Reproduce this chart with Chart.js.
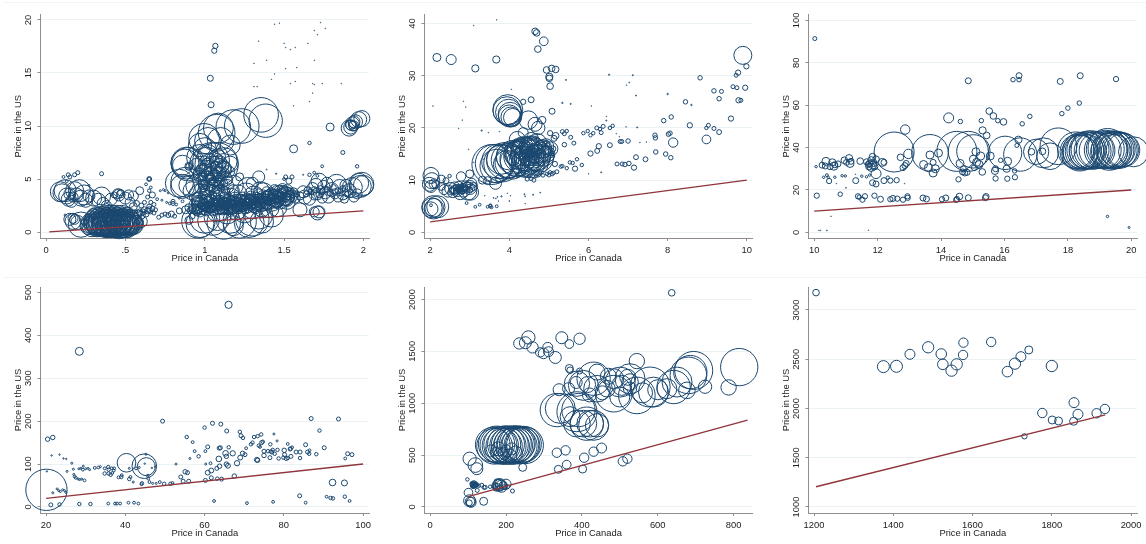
<!DOCTYPE html>
<html>
<head>
<meta charset="utf-8">
<script src="https://cdn.jsdelivr.net/npm/chart.js@4"></script>
<style>
  html, body { margin: 0; background: #fff; }
  #page { position: relative; width: 1146px; height: 544px; overflow: hidden; }
  canvas { position: absolute; }
  .rule { position: absolute; left: 3px; right: 0; height: 1px; background: #f1f5f6; }
</style>
</head>
<body>
<div id="page">
  <div class="rule" style="top:2px"></div>
  <div class="rule" style="top:277px"></div>
  <canvas id="p1"></canvas><canvas id="p2"></canvas><canvas id="p3"></canvas>
  <canvas id="p4"></canvas><canvas id="p5"></canvas><canvas id="p6"></canvas>
</div>
<script>
// each row: price in Canada, price in the US, weight
const under2 = [
  [.09,3.8,100],[.1,3.7,81],[.12,3.9,121],[.13,3.4,64],[.14,3.1,49],[.15,3.6,36],[.16,2.9,36],[.17,3.3,25],[.18,3.9,81],[.19,3.5,49],
  [.21,3.9,121],[.22,3.2,64],[.24,3.5,100],[.25,3,49],[.27,3.4,36],[.3,3.2,64],[.33,3,49],[.35,3.4,81],[.36,2.7,36],[.38,2.5,25],
  [.41,3.1,36],[.43,3.5,9],[.45,3.6,25],[.47,3.6,16],[.47,3.7,9],[.46,3.5,36],[.5,3.2,36],[.52,3.5,25],[.53,2.8,25],[.55,3.4,25],[.59,3.9,16],
  [.11,5.2,2],[.13,4.8,2],[.14,5.4,4],[.15,5.2,4],[.18,5.4,4],[.2,5.6,4],[.35,5.5,4],[.27,4.4,1],[.65,5,6],[.65,5,3],[.63,4.5,2],[.66,4.2,2],[.65,3.9,3],[.67,3.5,9],[.64,3.3,4],
  [.12,1.6,1],[.15,1.2,36],[.17,1,64],[.18,1.2,25],[.2,.9,49],[.22,.7,160],[.17,1.3,25],[.24,.9,9],[.27,1.3,16],[.28,1.5,25],[.3,1.7,36],
  [.27,.6,81],[.28,.8,100],[.29,.5,100],[.3,.7,100],[.31,.9,121],[.32,.5,100],[.33,.7,144],[.34,.8,144],[.345,.5,100],[.35,.9,169],[.36,.6,121],[.365,.7,144],
  [.37,.8,169],[.38,.5,121],[.385,.9,169],[.39,.6,144],[.4,.7,144],[.405,.9,169],[.41,.5,121],[.42,.8,169],[.425,.6,144],[.43,.9,169],[.44,.5,121],[.445,.7,144],
  [.45,.8,169],[.46,.5,144],[.465,.9,169],[.47,.6,144],[.48,.7,169],[.485,.5,121],[.49,.9,169],[.5,.6,144],[.505,.8,144],[.51,.5,121],[.52,.7,121],[.53,.6,100],[.54,.8,121],[.55,.7,100],[.57,.9,49],[.6,1,36],
  [.33,1.3,36],[.35,1.5,36],[.37,1.2,49],[.39,1.5,36],[.41,1.3,49],[.43,1.6,36],[.45,1.2,49],[.47,1.5,36],[.49,1.3,49],[.36,.4,64],[.4,.3,64],[.44,.3,64],[.48,.4,64],[.34,1,64],[.38,1,81],[.42,1.1,81],[.46,1,81],[.5,1,81],
  [.31,1,144],[.325,1.1,169],[.34,.9,196],[.355,1.1,196],[.37,1,196],[.385,1.2,196],[.4,1,196],[.415,1.2,196],[.43,1,196],[.445,1.2,196],[.46,1,196],[.475,1.2,196],[.49,1,169],[.505,1.1,169],[.52,1,144],[.535,.9,121],[.36,.8,121],[.39,.8,121],[.42,.8,121],[.45,.8,121],[.48,.8,121],[.375,1.3,64],[.405,1.4,64],[.435,1.3,64],[.465,1.4,64],
  [.5,1.5,25],[.52,1.7,16],[.54,1.6,9],[.56,1.8,9],[.58,1.7,16],[.59,1.9,9],[.6,1.6,16],[.61,1.9,9],[.62,2.1,9],[.63,1.7,9],[.64,2,9],[.65,2.1,9],[.66,1.9,4],[.67,2.2,6],[.68,1.8,4],[.69,2.1,4],
  [.55,2.4,16],[.57,2.7,9],[.6,2.5,6],[.62,2.8,4],[.65,2.4,6],[.66,2.8,4],[.68,2.6,4],[.7,3.1,2],[.72,3.9,1],[.74,4,1],[.75,3.9,1],[.77,3.7,1],[.73,3,1],[.76,2.8,1],[.78,2.7,2],[.8,2.9,4],[.8,2.7,4],[.82,2.6,2],[.84,3.2,1],[.86,2.9,2],
  [.71,1.4,4],[.73,1.6,4],[.75,1.7,4],[.77,1.6,6],[.79,1.7,9],[.81,1.5,4],[.84,2,9],[.9,1.1,16],[.92,1.5,9],
  [.88,2.1,16],[.9,2.3,16],[.91,2,9],[.93,2.2,25],[.94,2.6,16],[.95,2,25],[.96,2.4,36],[.97,2.8,25],[.98,2.2,36],[.99,3.1,16],[1,2.5,36],[1.01,2,25],[1.02,2.8,36],[1.03,2.3,25],[1.04,3,36],[1.05,2.5,49],[1.06,2.1,25],[1.07,3.2,25],[1.08,2.6,36],[1.09,2.2,36],
  [1.1,2.9,36],[1.11,2.4,49],[1.12,3.3,25],[1.13,2.7,36],[1.14,2.2,36],[1.15,3,36],[1.16,2.5,49],[1.17,2.9,25],[1.18,2.3,36],[1.19,3.2,36],[1.2,2.7,49],[1.21,2.2,25],[1.22,3,36],[1.23,2.5,36],[1.24,3.3,25],[1.25,2.8,49],[1.26,2.3,36],[1.27,3.1,36],[1.28,2.6,36],[1.29,3.4,25],
  [1.3,2.9,49],[1.31,2.4,36],[1.32,3.2,36],[1.33,2.7,36],[1.34,3.6,25],[1.35,3,49],[1.36,2.5,36],[1.37,3.4,36],[1.38,2.8,36],[1.39,3.8,25],[1.4,3.2,49],[1.41,2.7,36],[1.42,3.6,36],[1.43,3,36],[1.44,4,25],[1.45,3.4,49],[1.46,2.9,36],[1.47,3.8,36],[1.48,3.2,36],[1.49,4.1,25],
  [1.5,3.5,49],[1.51,3,36],[1.52,3.9,36],[1.53,3.3,36],[1.54,3.7,25],[1.55,3.4,36],[1.56,3.8,16],[1.57,3.2,25],[1.58,3.6,9],[1.6,3.4,16],
  [.96,2,16],[1.02,2.5,16],[1.07,2.8,16],[1.12,2.1,16],[1.17,2.6,16],[1.22,2.4,16],[1.27,2.8,16],[1.32,2.6,16],[1.37,3,16],[1.42,3.2,16],[1.47,3.4,16],[1.03,2.1,9],[1.08,2.4,9],[1.13,2.9,9],[1.18,2.7,9],[1.23,2.9,9],[1.28,3,9],[1.33,3.1,9],[1.38,3.3,9],[1.43,3.4,9],[1.48,3.6,9],
  [.97,2.5,9],[.99,2.3,9],[1,2.9,9],[1.01,2.6,9],[1.02,2.2,9],[1.04,2.6,9],[1.05,2.2,9],[1.06,2.9,9],[1.09,2.7,9],[1.1,2.3,9],[1.11,2.8,9],[1.12,2.5,9],[1.14,2.6,9],[1.15,2.3,9],[1.16,2.8,9],[1.17,2.2,9],[1.19,2.5,9],[1.2,2.9,9],[1.21,2.6,9],[1.22,2.2,9],[1.24,2.6,9],[1.25,2.4,9],[1.26,2.9,9],[1.27,2.5,9],[1.29,2.7,9],[1.3,2.5,9],[1.31,3,9],[1.32,2.8,9],[1.34,2.7,9],[1.35,3.3,9],[1.36,2.9,9],[1.37,2.6,9],[1.39,3,9],[1.4,2.8,9],[1.41,3.4,9],[1.42,2.9,9],[1.44,3.1,9],[1.45,3,9],[1.46,3.6,9],[1.47,3.1,9],[1.49,3.4,9],[1.5,3.2,9],[1.51,3.7,9],[1.52,3.3,9],[1.53,3.6,9],
  [.95,2.2,25],[.97,1.9,25],[.99,2.7,25],[1.01,2.3,25],[1.03,2.9,25],[1.05,2,25],[1.07,2.5,25],[1.09,3,25],[1.11,2.1,25],[1.13,2.5,25],[1.15,2.8,25],[1.17,2.1,25],[1.19,2.8,25],[1.21,2.4,25],[1.23,3.1,25],[1.25,2.2,25],[1.27,2.6,25],[1.29,3.1,25],[1.31,2.7,25],[1.33,2.4,25],[1.35,2.7,25],[1.37,3.2,25],[1.39,2.6,25],[1.41,3,25],[1.43,3.5,25],[1.45,2.8,25],[1.47,3.2,25],[1.49,3.7,25],[1.51,3.3,25],[1.53,3.5,25],[.96,2.9,36],[1,2.2,36],[1.04,2.4,36],[1.08,2.9,36],[1.12,2.7,36],[1.16,2.2,36],[1.2,3,36],[1.24,2.5,36],[1.28,2.9,36],[1.32,2.3,36],[1.36,2.8,36],[1.4,3.4,36],[1.44,2.9,36],[1.48,3.5,36],[1.52,3,36],
  [1.02,2.4,4],[1.06,2.6,4],[1.1,2.6,4],[1.14,2.4,4],[1.18,2.5,4],[1.22,2.7,4],[1.26,2.6,4],[1.3,2.7,4],[1.34,2.9,4],[1.38,3.1,4],[1.42,3.1,4],[1.46,3.3,4],[1.5,3.4,4],
  [.95,2.5,64],[1.03,2.7,81],[1.09,2.5,64],[1.15,2.6,81],[1.21,2.5,64],[1.27,2.7,81],[1.33,2.8,64],[1.39,3,81],[1.45,3.1,64],[1.51,3.4,81],[.98,2.9,100],[1.03,3.4,121],[1.1,3.5,100],[1.16,3.1,121],[1.21,3.6,81],[1.26,3.5,144],[1.31,3.4,100],[1.37,3.7,100],[1.42,3,121],[1.47,3.3,144],[1.5,3.4,100],[1.08,2,121],[1.14,1.9,144],[1.2,2.1,100],[1.25,2,144],[1.3,2.3,121],[1.36,2.4,100],[1.41,2.2,81],[1.46,2.3,81],[1.52,2.9,64],
  [1.35,3.9,81],[1.27,4.2,100],[1.22,5.2,16],[1.18,4.4,100],[1.3,4.6,36],[1.34,5.2,36],[1.39,5.9,.2],[1.45,5.5,.4],[1.5,5,2],[1.51,5.2,4],[1.53,4.8,9],[1.55,5.2,4],[1.62,5.4,.3],[1.66,5.4,3],[1.69,5.6,2],[1.71,5.3,2],
  [1.62,3.8,36],[1.63,3.3,49],[1.65,3.9,16],[1.66,3.1,36],[1.68,4.1,36],[1.69,3.5,25],[1.7,4.4,49],[1.71,3.6,36],[1.72,4.8,64],[1.73,4,16],[1.74,3.2,25],[1.75,4.3,36],[1.76,3.7,36],[1.77,4.6,36],[1.78,3.3,36],[1.8,4,49],[1.82,3.6,25],[1.83,4.5,100],[1.84,3.3,25],[1.85,4.2,64],[1.87,3.6,36],[1.88,3.1,16],[1.89,4.4,36],[1.91,3.9,49],[1.93,4.2,100],[1.94,3.3,25],[1.96,3.6,25],[1.97,4.6,100],[1.98,4.3,121],[1.99,4.5,144],[2,4.4,100],
  [1.64,3.6,9],[1.67,3.8,9],[1.69,4,9],[1.72,3.5,9],[1.74,3.8,9],[1.77,4,9],[1.79,3.7,9],[1.81,4.2,9],[1.84,3.9,9],[1.87,4.1,9],[1.9,3.6,9],[1.92,3.8,9],
  [1.6,2.1,49],[1.69,1.9,25],[1.71,1.8,49],[1.72,1.9,36],
  [.84,4.6,196],[.86,4.3,144],[.88,4.7,225],[.9,4.4,100],[.92,3.9,81],[.95,4.4,121],[.97,3.5,121],[.887,6.5,256],[.897,6.4,278],[.875,6.5,196],[.9,6.2,16],[.9,6.2,9],[.86,6.3,100],
  [1.075,6.4,469],[1.04,6.7,336],[1.01,6.4,278],[1.12,6.7,178],[.97,7,178],[1.05,5.9,178],[.99,5.4,100],[1.1,6,100],[1.02,7.3,100],[1.08,7.1,64],[1.12,5.9,64],[1.16,6.4,64],[1.02,6.2,64],[.95,6.2,64],[.97,5.4,49],[1.01,5,64],[1.03,4.6,64],[1.06,5.1,64],[1.09,5.5,49],[1.13,5,49],[1,5.9,36],[1.04,5.6,36],[1.07,6.1,36],[1.1,6.6,36],[1.15,5.7,36],[1.06,6.7,25],[1,6.7,25],[1.04,6.9,25],[.98,6,25],[1.12,6.2,25],[1.03,5.3,25],[1.07,5.4,25],[.99,4.5,25],[1.05,4.3,36],[1.02,4,49],[1.09,4.6,25],[1.14,4.3,49],[1.18,3.9,36],[1.08,3.6,49],[1.02,3.4,36],
  [.98,5.2,16],[1,5.6,16],[1.02,5.8,16],[1.04,5.2,16],[1.05,4.8,16],[1.06,5.6,16],[1.08,5.9,16],[1.09,5,16],[1.11,5.4,16],[1.12,4.6,16],[1.13,5.6,16],[1.01,4.4,16],[1.03,3.9,16],[1.05,3.5,16],[1.07,4,16],[1.1,4.2,16],[1.13,3.9,16],[1.15,4.9,16],[1,4,25],[1.04,4.9,25],[1.08,4.4,25],[1.12,3.6,25],[1,3.6,25],[.97,4.1,25],[.95,3.3,25],[1.06,6.3,16],[1.09,6.9,16],[1.11,6.4,16],[1.03,6.4,16],
  [1.384,10.5,278],[1.355,11.05,300],[1.233,10,300],[1.18,9.9,300],[1.075,9.36,336],[1.086,9.8,225],[.996,8.8,236],[1.02,8.6,178],[1,7.8,136],[.97,8.2,136],[1.1,8.6,178],[1.16,8.2,100],
  [.96,1,278],[.97,.8,196],[1.05,1.1,225],[1.12,.9,278],[1.16,1.2,196],[1.22,1,278],[1.3,1.2,278],[1.36,1,136],[1.28,.9,225],[1.18,.6,100],[1.08,1.4,178],[1,1.3,225],[1.34,1.6,196],[1.42,1.6,144],
  [1.34,18,.1],[1.47,19.7,.1],[1.44,19.6,.1],[1.73,19.75,.1],[1.76,19.2,.1],[1.69,19,.1],[1.71,18.6,.1],[1.65,17.8,.1],[1.5,17.8,.1],[1.51,17.4,.1],[1.54,17.2,.1],[1.57,17.4,.1],[1.69,16.2,.1],[1.39,16.2,.1],[1.31,15.9,.1],[1.51,15.4,.1],[1.58,15.5,.1],[1.44,14.9,.1],[1.42,14.4,.1],[1.57,14.2,.1],[1.54,14,.1],[1.68,14,.1],[1.74,14,.1],[1.86,14,.1],[1.69,13.9,.1],[1.31,13.7,.1],[1.33,13.7,.1],[1.68,13.1,.1],[1.66,12.3,.1],[1.56,11.9,.1],
  [1.067,17.55,7],[1.06,17.1,7],[1.035,14.5,9],[1.04,12,9],[1.79,9.9,16],[1.56,7.85,16],[1.66,8.4,3],[1.87,7.5,4],[1.96,6.2,3],[1.74,6.2,2],
  [1.93,10.2,49],[1.94,10.4,36],[1.92,9.9,49],[1.91,9.8,64],[1.95,10.4,49],[1.97,10.6,64],[1.99,10.7,64],[1.92,10.1,25],[1.93,10.1,16],[1.94,10,25]
];
const from2to10 = [
  [2.17,33.5,16],[2.53,33.1,25],[3.14,31.4,13],[3.67,33.1,13],[4.65,38.5,11],[4.69,38.2,11],[4.87,36.6,19],[4.72,35.1,11],[4.94,31.1,11],[5.07,31.4,11],[5.17,31.2,11],[5.01,29.8,13],[5.01,29.5,11],[5.03,28,11],
  [9.9,33.9,81],[9.99,31.8,7],[9.78,30.6,7],[9.73,30.1,4],[8.82,29.6,5],[9.65,27.9,4],[9.75,27.7,4],[9.96,27.7,7],[9.17,27.1,5],[9.36,27,4],[9.3,25.6,5],[9.79,25.3,7],[9.85,25.3,4],[8.45,25,5],[9.6,21.8,7],[8.56,20.5,7],[8.09,22.1,5],[7.9,21.4,5],
  [9.03,20.5,4],[8.98,20,3],[9.17,19.9,4],[9.3,19.2,6],[8.98,17.8,19],[8.14,17.2,22],[8.06,19,5],[8.02,18.8,5],[7.68,18.6,5],[7.69,18.1,5],[7,17.5,5],[6.84,17.4,4],[6.8,17.4,4],[6.54,16.7,6],[6.26,16.5,7],[6.22,15.6,6],[6.05,15.1,7],[7.7,15.4,5],[7.95,15,5],[8.08,14.3,5],
  [7.2,14.4,6],[7.44,14,6],[7.15,12.4,7],[7.02,13.2,5],[6.72,13.1,4],[6.85,13.1,4],[6.92,13,5],[5.87,19,3],[5.98,19.4,3],[6.05,18.6,3],[6.12,19,3],[6.21,20,4],[6.29,19.8,3],[6.37,20.3,4],[6.54,20,3],[6.61,20.4,3],[6.32,19.1,4],
  [5.55,18.2,4],[5.63,17.1,4],[5.39,16.8,5],[5.45,19.4,3],[5.34,19.3,4],[5.39,18.9,4],[5.17,18.5,11],[5.53,13.4,3],[5.6,13.3,3],[5.71,14,3],[5.83,12.9,3],[5.66,12.2,7],[5.3,12.6,3],[5.34,12.7,3],[5.45,12.3,3],[5.15,13.1,7],
  [4.55,25.4,9],[4.35,25,7],[5.08,23.2,9],[4.83,21.5,14],[3.94,23.3,196],[3.98,23,169],[4.02,22.6,144],[4,22.3,121],[4.04,22.1,100],[4.08,22,81],[3.96,23.5,225],[4.48,21.5,85],[4.65,20.7,49],[4.73,20,45],[4.35,19.1,25],[4.2,17.8,64],
  [3.56,13,400],[3.68,12.7,278],[3.89,13.7,336],[4.06,13.4,278],[4,14.5,178],[4.28,14.6,278],[4.45,14.9,278],[4.62,15.2,225],[4.7,14.3,178],[4.37,13.6,225],[4.2,15.2,178],[4.55,13,178],[4.8,15.5,121],[4.3,16,100],[4.5,16.5,100],[4.7,17,100],[4.85,16,81],[4.95,15,64],[5.05,16,49],[4.12,15.9,49],
  [3.8,14,225],[3.95,13,196],[4.15,13.6,225],[4.25,14.8,196],[4.4,15.5,196],[4.5,14,225],[4.6,15.8,169],[4.75,15,144],[4.35,16.4,100],[4.55,17.6,64],
  [3.62,13.2,360],[3.74,13.6,300],[3.82,13.2,340],[3.98,13.8,300],[4.1,14.4,280],[4.2,14,300],[4.34,15,280],[4.52,14.6,260],[4.66,14.8,240],[4.76,14.2,196],[4.4,13.2,196],[4.58,16.4,121],[4.68,13.2,144],[4.88,14.6,100],[4.92,16.4,64],
  [4.1,14,36],[4.18,16.4,36],[4.25,13.2,25],[4.3,15.2,36],[4.36,14.3,25],[4.42,16.2,36],[4.45,15,25],[4.5,13.9,36],[4.52,15.5,25],[4.57,14.4,25],[4.6,16,25],[4.62,13.7,25],[4.66,15,36],[4.7,15.8,25],[4.75,14,25],[4.78,15.1,25],[4.85,14.5,25],[4.9,15.8,16],[4.35,15.6,16],[4.4,13.5,16],[4.47,14.6,16],[4.55,15.1,16],[4.6,14.7,16],[4.65,13.9,16],[4.72,16.4,16],[4.26,15.7,16],[4.44,15.4,9],[4.5,14.9,9],[4.58,14.2,9],[4.64,15.5,9],[4.4,14.7,9],[4.76,15.5,9],[5.05,14.9,9],[5.1,16,9],[5.13,18,9],[5.03,19,7],[4.95,17,9],
  [4.35,11.4,4],[4.45,10.2,4],[4.5,10.8,3],[4.55,10.3,4],[4.62,10,4],[4.68,10.8,3],[4.74,11,4],[4.78,11.4,3],[4.85,10.9,3],[4.95,11.2,3],[5,11,4],[5.03,11.5,3],[5.08,11.2,4],[5.12,11.4,3],[5.2,11.6,4],[4.2,10.9,4],[4.6,11.6,3],
  [2.02,10.9,64],[2.04,9.9,64],[1.98,9.2,49],[2.02,8.8,36],[2.1,9.3,25],[2.14,9.2,16],[2.28,10.2,16],[2.4,9.9,9],[2.49,10.8,3],[2.28,8.8,16],[2.35,8.2,25],[2.45,7.9,36],[2.52,8.4,36],[2.57,7.6,25],[2.62,8.5,36],[2.68,8,36],[2.72,8.8,25],[2.76,7.6,49],[2.78,10.7,22],[2.82,8.4,25],[2.85,7.9,36],[2.9,8.9,25],[2.95,7.9,81],[3,8.6,49],[3.02,7.7,64],[3.05,9.4,25],[3.1,8.8,16],[2.6,8.2,16],[2.7,8.4,9],[2.74,8.1,9],[2.8,7.9,9],[2.84,8.4,9],[2.66,7.7,9],[2.88,8.2,9],[3,11.2,16],[3.32,10,16],[3.45,9.9,16],[3.65,9.4,36],[3.75,10.3,16],
  [2.55,8,9],[2.65,8.6,9],[2.75,8.6,9],[2.78,8.2,4],[2.82,7.7,4],[2.86,8.7,9],[2.92,8.3,9],[2.96,9,9],[3,8.1,9],[3.05,8.4,9],[2.72,7.9,4],[2.68,8.3,4],
  [2.08,4.8,136],[2.1,4.7,87],[2.05,4.7,100],[2.19,4.9,121],[2.02,4.5,49],[2.02,5.2,2],[2.92,5.6,2],[3.14,4.9,2],[3.25,5.3,2],[3.45,4.9,2],[3.52,5.2,2],[3.55,4.8,2],[3.52,5,3],[3.68,5,2],
  [2.07,24.2,.1],[2.84,25.1,.1],[2.9,24,.1],[2.81,21.5,.1],[2.72,19.9,.1],[3.3,19.5,.4],[3.75,19.3,.1],[3.1,39.6,.1],[3.68,40.7,.1],[4.05,27.4,.1],[5.34,24.8,.5],[5.55,24.6,.3],[5.43,29.2,.3],[6.07,24.2,.1],[6.52,30.2,.4],[7.12,30.1,.3],[7.03,28.7,.2],[6.96,28.2,.1],[7.2,26.2,.3],[8,26.5,.5],[8.6,24.4,.5],[6.45,22.2,.1],[6.45,21.4,.3],[7.23,20.1,.3],[6.95,20.2,.1],[7.3,17.2,.1],[7.46,17.3,.1],[6.7,18.9,.1],[6.78,18.3,.1],[6.32,11.5,.3],[6,11.2,.1],
  [3.38,7,.1],[3.6,6.6,.2],[3.7,6.8,.2],[3.66,6.5,.2],[3.8,6.9,.4],[3.72,6,.1],[3.95,7.5,.1],[4.03,7,.1],[4,6,.2],[4.38,7.3,.3],[4.4,6.9,.2],[4.6,7.2,.3],[4.78,7.6,.2],[4.4,5.5,.1],[2.97,15.9,.1],[3.47,19.1,.1],[3.1,13.4,.1],[3.35,14,.1]
];
const from10to20 = [
  [10.02,91.4,4],[14.86,71.5,9],[16.27,72,5],[16.46,73.9,9],[16.46,72,5],[17.76,71.2,9],[18.39,73.9,9],[19.52,72.3,7],[18.36,61,5],[18,58.6,5],[17.81,56,5],[16.8,54.7,5],[15.52,57.2,11],[15.65,54.9,11],[15.79,52.7,5],[15.97,52.1,11],[16.56,51.2,5],[15.27,52.7,5],[14.61,52.3,5],[14.24,54,25],[12.87,48.5,22],[15.31,48.1,13],[15.44,45.7,11],[16.44,43.7,13],[16.39,41,4],
  [12.52,37.9,400],[13.65,37.5,336],[14.5,38.2,400],[14.86,38.2,400],[15.02,38.2,278],[16.02,37.5,278],[16.5,36.7,278],[17.23,37.5,225],[17.44,35.9,178],[17.7,40.6,336],[17,38,160],[20.07,38,225],
  [18.38,37.5,330],[18.25,38.8,330],[18.3,38,300],[18.4,38.6,320],[18.48,38.2,320],[18.55,38.8,340],[18.62,38.6,340],[18.7,39,360],[18.78,38.4,340],[18.85,39,340],[18.92,38.6,320],[18.4,37.6,300],[18.6,38,300],[19.1,38.8,340],[19.18,39.2,360],[19.25,39.8,380],[19.32,39,340],[19.38,38.6,340],[19.44,39.2,340],[19.5,38.8,340],[19.56,39.2,320],[19.62,38.6,320],[19.68,39,300],[19.74,38.8,280],[19.3,38,340],[19.45,38,300],
  [12.72,35.4,11],[12.97,37,22],[12.9,32.5,9],[12.86,31.5,9],[12.8,30.5,9],[13.45,32,16],[13.6,30.5,16],[13.75,33,9],[13.65,36.5,16],[13.92,37.4,16],[13.82,30,16],[13.75,28,16],[14.6,32.5,16],[14.7,30,9],[14.75,28,9],[14.68,28.5,9],[14.82,28.3,9],[15.02,34.5,16],[15.12,33,16],[15.2,32,16],[15.25,36,16],[15.1,38,16],[15.05,30.5,9],[15.3,28.5,11],[15.55,36,16],[15.72,30,9],[15.7,29,13],[15.88,34,5],[16.07,30,13],[16.1,33.5,16],[16.32,29,5],[16.33,26,7],[16.09,25.3,7],[15.72,25.4,7],[14.55,25,7],[16.85,38,11],[17.2,38.2,11],
  [10.08,17.3,7],[10.82,18,5],[11.38,17,7],[11.42,16.6,5],[11.52,15.4,7],[11.6,17,7],[11.9,17.3,7],[12.09,15.6,9],[12.4,15.6,7],[12.48,16,9],[12.62,15.9,7],[12.8,15.4,7],[12.94,17,7],[12.95,16.3,7],[13.43,16.2,9],[13.54,15.7,9],[14.03,15.6,7],[14.15,16.2,9],[14.48,15.3,7],[14.58,16.9,11],[14.5,15.7,7],[14.86,16.3,9],[15.42,16.9,9],[15.4,16.3,9],
  [10.47,24.2,7],[11.31,24.4,9],[11.84,23.4,9],[11.95,22.8,9],[12.2,24.4,9],[12.4,24.4,7],[12.6,24.6,7],[12.32,25.8,3],[11.5,26.5,1.5],[11.65,26.2,1.5],[11.75,27,1.5],[11.95,27.7,25],[10.3,26,1.5],[10.4,27,2],[10.44,26,1.5],[10.65,26,1.5],[10.88,26.7,1.5],[10.98,26.6,1.5],
  [10.06,31,1.5],[10.25,31.7,9],[10.37,33.5,16],[10.35,31.3,9],[10.5,31,9],[10.57,33,13],[10.62,31.2,16],[10.65,31.9,9],[10.75,32.3,9],[10.95,34,11],[11.02,33,9],[11.1,35,13],[11.13,32.5,16],[11.16,33.5,9],[11.45,33.6,11],[11.65,33.3,9],[11.7,32,9],[11.73,31,11],[11.75,32.5,11],[11.8,30.6,16],[11.8,34,13],[11.84,35.7,11],[11.87,32.5,9],[11.9,31,11],[11.95,34.5,11],[11.85,31.8,16],[12.15,33,16],[12.2,33,9],
  [19.25,7.5,1.5],[19.93,2.3,1],[10.53,7.6,.1],[10.4,.9,.2],[10.15,.9,.1],[10.2,.9,.1],[11.71,1,.1],[10.7,23,.1],[11,21,.2],[11.3,27.4,.1],[12.85,23,.1]
];
const from20to100 = [
  [66.06,471,13],[28.4,362.6,16],[49.4,200,4],[20.4,158,5],[21.7,162,5],[86.9,206,4],[93.8,205,4],[60,185,3],[62,195,4],[64.1,193,4],[65.6,177,4],[68.9,175,3],[69.2,166,4],[69.7,161,3],[55.5,163,3],[57,151,2],[57.5,130,2],[89,178,3],
  [40.3,103,87],[44.8,95,152],[45.3,94,81],[20.1,40,427],[92.3,57,11],[95.3,56,9],
  [21.2,5,4],[23.4,6,3],[28.4,7,3],[31.2,7,3],[35.7,8,2],[37.4,8,2],[37.9,8,2],[38.7,8,2],[40.8,10,2],[42.2,10,2],[43.3,8,2],[62.4,14,2],[70.7,9,2],[77.3,12,2],[85.5,10,2],[84,26,4],[90.8,24,2],[91.8,21,3],[92.4,20,3],[95.4,24,3],[96.6,14,2],
  [20.2,83,.5],[21.4,120,.5],[23.4,122,.5],[24.4,113,.5],[25.1,112,.5],[25.3,83,1],[26.5,102,1],[26.9,88,1],[21.7,33,1],[22.8,42,1],[23.2,38,1],[23.6,36,1],[24.2,40,1],[24.7,38,1],[25,34,1],
  [27,76,1],[27.2,71,2],[27.5,68,2],[28.1,65,1],[28.5,64,1],[29,65,1],[29.7,62,2],[28.3,89,1],[28.8,90,1],[29.3,87,2],[29.4,95,1],[30,89,1],[30.6,90,1],[31,87,1],[32.3,91,2],[33.2,92,2],[33.7,94,1],[34.8,90,2],[35.7,93,3],[35.8,87,3],[36.6,90,2],[37.2,90,2],[37.1,85,2],
  [34.8,78,3],[35.8,78,3],[36.3,75,3],[36.7,79,2],[38.3,69,2],[39,70,3],[39.1,74,2],[41,65,3],[41.3,70,2],[42,58,1],[44.1,53,2],[44.2,55,3],[45.7,73,2],[45.8,66,2],[46.1,58,2],[46.9,55,1],[47.8,55,1],[48.7,58,2],[49.8,54,3],[51.4,54,3],[51.9,56,2],[54,70,4],[54.6,60,4],[55.1,82,5],[55.7,80,4],[56,60,4],
  [41,90,1],[43.5,92,1],[42.7,90,2],[44.9,101,.5],[45.2,123,1],[46.7,91,.5],[47.5,94,.5],[52.8,100,1],[60.2,130,2],[60.3,100,1],[61.5,102,2],[60.8,140,4],[58.5,118,3],[56.3,113,1],[60.2,62,4],[61.7,68,4],[63.2,66,3],[64.3,65,4],[61.7,85,6],[60.8,80,6],[63.1,90,4],[63.8,95,5],[63.6,112,8],[65.3,125,8],[65.5,100,5],[65.9,96,6],[64,138,4],[63.7,137,4],[65.5,118,5],[66.1,139,3],[67.1,125,7],[67.5,72,5],[68.2,102,7],[69,115,6],
  [69.6,125,5],[70.2,122,4],[70.5,137,2],[71.7,146,3],[72.1,150,3],[72.5,163,3],[73.4,165,3],[74.3,169,3],[73.2,110,6],[73.4,109,5],[73.7,143,3],[74.4,150,4],[74.7,152,3],[75,120,5],[76,130,3],[76.5,115,4],[76.6,146,3],[77,128,4],[77.2,133,3],[77.7,124,3],[78.4,133,3],[78.7,113,3],[79.9,115,3],[80.1,132,5],[80.2,122,4],[80.6,113,4],[81,114,3],[81.6,135,4],[81.8,118,4],[81.7,136,3],
  [82.1,139,2],[83.1,128,4],[84.1,128,4],[84.1,114,3],[85.5,145,4],[86,128,4],[86.4,124,3],[86.5,132,2],[88.2,123,3],[90.2,138,4],[95.5,113,2],[96.1,124,4],[97.2,122,4],[77.5,170,1],[78.3,154,1],[81,147,2],[75,130,4],[76.7,129,3],[74,140,2]
];
const from100to1000 = [
  [637,2064,11],[259,1634,44],[235,1576,32],[251,1583,36],[270,1538,32],[290,1490,22],[299,1480,28],[310,1538,25],[312,1496,25],[330,1441,36],[347,1631,36],[367,1570,19],[394,1621,32],
  [367,1335,16],[369,1318,11],[394,1310,9],[545,1406,59],[815,1348,348],[787,1152,59],[725,1159,44],
  [334,934,278],[343,950,225],[391,934,278],[387,918,400],[413,803,278],[404,803,178],[431,787,225],[422,803,178],[440,787,136],[387,803,178],[369,870,100],[340,1130,36],
  [404,1172,225],[387,1188,160],[431,1236,278],[440,1140,178],[501,1204,225],[527,1236,225],[484,1092,336],[545,1075,336],[589,1107,225],[580,1156,400],[642,1156,278],[651,1204,225],[686,1300,278],[695,1316,361],[681,1268,336],[677,1124,69],[624,1140,100],[466,1140,69],[484,1236,100],[527,1204,69],[527,1140,44],[505,1172,100],[440,1300,64],[470,1260,64],[415,1180,64],[500,1060,100],[560,1100,100],[600,1130,100],[521,1250,64],[454,1100,49],[365,1140,36],[385,1200,36],[420,1080,49],
  [165,600,300],[170,585,320],[175,605,330],[180,595,340],[185,590,330],[190,600,340],[195,585,330],[200,605,340],[205,590,330],[210,600,340],[214,585,330],[218,605,340],[222,590,330],[226,600,340],[230,610,320],[234,590,330],[238,600,340],[242,595,320],[246,605,320],[250,595,340],[180,560,49],[200,540,36],[210,490,49],[185,500,49],[225,520,49],[160,540,36],[175,520,36],[195,520,36],[215,560,36],
  [104,465,44],[119,404,54],[123,369,36],[244,382,16],[334,523,22],[357,546,22],[431,533,22],[452,568,25],[406,475,22],[508,440,22],[520,465,22],[338,363,16],[360,408,19],[402,366,16],
  [114,212,9],[112,220,6],[116,205,6],[118,215,9],[111,205,4],[120,222,4],[113,195,4],[115,230,6],[117,200,3],[119,208,4],[122,212,5],[110,225,4],[124,160,4],[128,205,3],[136,210,4],[145,190,4],
  [158,195,3],[170,205,9],[175,190,16],[178,215,25],[182,210,36],[185,225,25],[188,200,36],[178,235,16],[192,205,16],[200,220,25],[185,185,9],[195,190,6],[204,195,4],[172,180,3],
  [101,138,19],[104,60,36],[105,51,22],[108,45,25],[103,40,9],[141,55,16],[217,154,4],[98,266,3],[142,189,4]
];
const over1000 = [
  [1205,3176,11],[1375,2425,36],[1408,2428,36],[1442,2550,25],[1488,2621,32],[1521,2553,28],[1525,2448,28],[1547,2384,32],[1560,2448,32],[1577,2668,22],[1576,2543,22],[1647,2675,22],[1688,2374,28],[1707,2455,32],[1722,2526,25],[1742,2594,16],[1800,2431,32],[1731,1717,7],[1776,1954,22],[1801,1883,16],[1817,1873,16],[1855,1870,16],[1856,2059,25],[1866,1941,25],[1913,1951,22],[1934,1995,22]
];

// 45 degree reference lines: first and last price in each panel
const line1 = [.02, 2];
const line2 = [2, 10];
const line3 = [10, 20];
const line4 = [20, 100];
const line5 = [100, 837];
const line6 = [1205, 1935];

const xTicks1 = [0, .5, 1, 1.5, 2], xLabels1 = ['0', '.5', '1', '1.5', '2'], yTicks1 = [0, 5, 10, 15, 20];
const xTicks2 = [2, 4, 6, 8, 10], yTicks2 = [0, 10, 20, 30, 40];
const xTicks3 = [10, 12, 14, 16, 18, 20], yTicks3 = [0, 20, 40, 60, 80, 100];
const xTicks4 = [20, 40, 60, 80, 100], yTicks4 = [0, 100, 200, 300, 400, 500];
const xTicks5 = [0, 200, 400, 600, 800], yTicks5 = [0, 500, 1000, 1500, 2000];
const xTicks6 = [1200, 1400, 1600, 1800, 2000], yTicks6 = [1000, 1500, 2000, 2500, 3000];

const navy = '#1a476f';
const cranberry = '#90353b';
const gridColor = '#eaf2f3';
const axisColor = '#8e8e8e';
const textColor = '#222';
const fontFace = { family: '"Liberation Sans", Arial, sans-serif', size: 9.4 };

// rotated y labels should sit centred on their tick
const centerYLabels = {
  id: 'centerYLabels',
  beforeDraw(chart) {
    chart.scales.y.getLabelItems().forEach(item => { item.options.textAlign = 'center'; });
  }
};

function drawPanel(id, points, lineEnds, xTicks, yTicks, xLabels, xRange, yRange, box) {
  const canvas = document.getElementById(id);
  canvas.style.left = box.left + 'px';
  canvas.style.top = box.top + 'px';
  canvas.style.width = box.width + 'px';
  canvas.style.height = box.height + 'px';
  canvas.width = box.width;
  canvas.height = box.height;

  new Chart(canvas, {
    type: 'bubble',
    data: {
      datasets: [
        {
          type: 'scatter',
          data: lineEnds.map(v => ({ x: v, y: v })),
          showLine: true,
          borderColor: cranberry,
          borderWidth: 1.4,
          pointRadius: 0,
          clip: false
        },
        {
          data: points.map(p => ({ x: p[0], y: p[1], r: Math.sqrt(p[2]) })),
          backgroundColor: 'transparent',
          borderColor: navy,
          borderWidth: 1,
          clip: false
        }
      ]
    },
    plugins: [centerYLabels],
    options: {
      responsive: false,
      animation: false,
      events: [],
      layout: { autoPadding: false, padding: { top: box.padTop, right: box.padRight, bottom: 0, left: 0 } },
      plugins: { legend: { display: false }, tooltip: { enabled: false } },
      scales: {
        x: {
          type: 'linear',
          min: xRange[0],
          max: xRange[1],
          afterBuildTicks: s => { s.ticks = xTicks.map(v => ({ value: v })); },
          afterFit: s => { s.height = box.axisHeight; },
          border: { color: axisColor },
          grid: { drawOnChartArea: false, tickColor: axisColor, tickLength: 3 },
          ticks: {
            autoSkip: false, maxRotation: 0, padding: 4, color: textColor, font: fontFace,
            callback: v => xLabels ? xLabels[xTicks.indexOf(v)] : String(v)
          },
          title: { display: true, text: 'Price in Canada', color: textColor, font: fontFace, padding: { top: 0, bottom: box.titleGap } }
        },
        y: {
          type: 'linear',
          min: yRange[0],
          max: yRange[1],
          afterBuildTicks: s => { s.ticks = yTicks.map(v => ({ value: v })); },
          afterFit: s => { s.width = 40.5; },
          border: { color: axisColor },
          grid: { color: gridColor, tickColor: axisColor, tickLength: 3 },
          ticks: {
            autoSkip: false, minRotation: 90, maxRotation: 90, padding: 9, color: textColor, font: fontFace,
            callback: v => String(v)
          },
          title: { display: true, text: 'Price in the US', color: textColor, font: fontFace, padding: { top: 12.3, bottom: 0 } }
        }
      }
    }
  });
}

const topRow = { top: 0, height: 270, padTop: 12, axisHeight: 32, titleGap: 6.2 };
const lowRow = { top: 270, height: 274, padTop: 17, axisHeight: 31, titleGap: 5.2 };
const col1 = { left: 0, width: 380, padRight: 11 };
const col2 = { left: 384, width: 376, padRight: 7.5 };
const col3 = { left: 768, width: 378, padRight: 9 };

drawPanel('p1', under2, line1, xTicks1, yTicks1, xLabels1, [-.035, 2.035], [-.56, 20.5], { ...topRow, ...col1 });
drawPanel('p2', from2to10, line2, xTicks2, yTicks2, null, [1.856, 10.144], [-1.08, 41.7], { ...topRow, ...col2 });
drawPanel('p3', from10to20, line3, xTicks3, yTicks3, null, [9.82, 20.18], [-2.67, 102.7], { ...topRow, ...col3 });
drawPanel('p4', from20to100, line4, xTicks4, yTicks4, null, [18.6, 101.5], [-14, 512.5], { ...lowRow, ...col1 });
drawPanel('p5', from100to1000, line5, xTicks5, yTicks5, null, [-15, 850], [-58, 2120], { ...lowRow, ...col2 });
drawPanel('p6', over1000, line6, xTicks6, yTicks6, null, [1186, 2015], [939, 3233], { ...lowRow, ...col3 });
</script>
</body>
</html>
